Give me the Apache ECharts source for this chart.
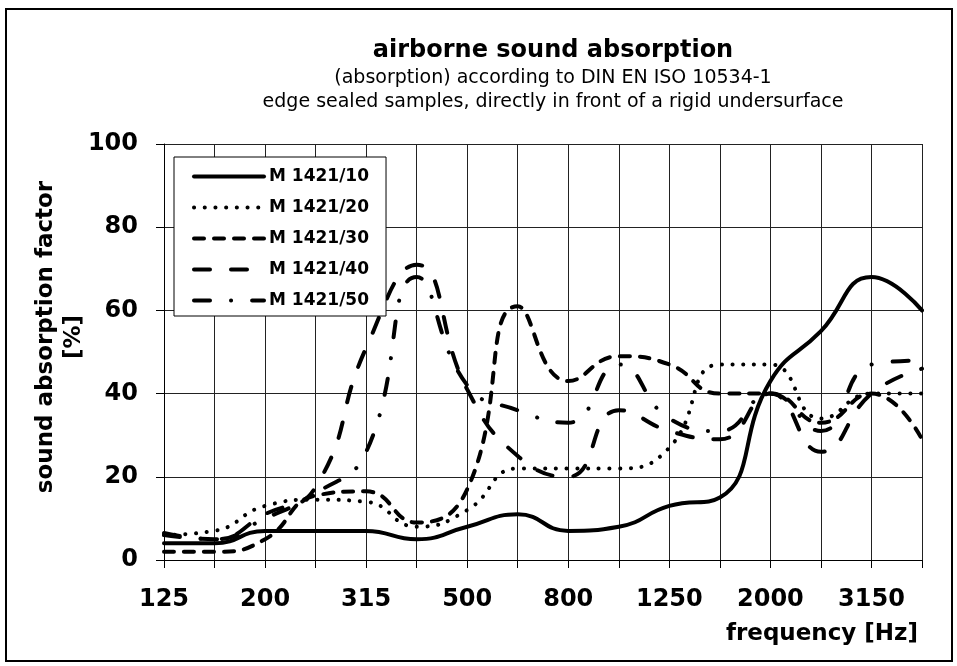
<!DOCTYPE html>
<html>
<head>
    <meta charset="utf-8">
    <title>airborne sound absorption</title>
    <script src="https://cdn.jsdelivr.net/npm/echarts@6/dist/echarts.min.js"></script>
    <style>
        html, body { margin: 0; padding: 0; background: #fff; }
    </style>
</head>
<body>
<div id="main" style="width: 957px;height:666px"></div>
<script type="text/javascript">
    // third-octave band centre frequencies [Hz]
    var freqs = ['125', '160', '200', '250', '315', '400', '500', '630', '800', '1000', '1250', '1600', '2000', '2500', '3150', '4000'];

    // sound absorption factor [%] per sample
    var m10 = [4, 4, 7, 7, 7, 5, 8, 11, 7, 8, 13, 15, 43, 55, 68, 60];
    var m20 = [6, 7, 13, 14.5, 14, 8, 12, 22, 22, 22, 27, 47, 47, 34, 40, 40];
    var m30 = [2, 2, 5, 15.5, 16.5, 9, 17, 61, 43, 49, 47, 40, 40, 33, 40, 29];
    var m40 = [6, 5, 11, 17.5, 51, 71, 41, 25, 20, 36, 31, 29, 40, 26, 40, 46];
    var m50 = [6.5, 5, 10, 16, 26, 68, 42, 36, 33, 47, 34, 31, 40, 31, 47, 48];

    var names = ['M 1421/10', 'M 1421/20', 'M 1421/30', 'M 1421/40', 'M 1421/50'];
    var values = [m10, m20, m30, m40, m50];
    var dashes = ['solid', [0.1, 10.6], [10, 10], [16, 21], [16, 21, 0.1, 21]];

    var font = 'DejaVu Sans, Verdana, sans-serif';

    var myChart = echarts.init(document.getElementById('main'));

    var series = names.map(function (n, i) {
        return {
            name: n,
            type: 'line',
            data: values[i],
            smooth: 0.5,
            symbol: 'none',
            lineStyle: {
                color: '#000',
                width: 4,
                type: dashes[i],
                cap: 'round'
            },
            itemStyle: { color: '#000' },
            z: 3
        };
    });

    var option = {
        animation: false,
        backgroundColor: '#fff',
        textStyle: { fontFamily: font },
        title: [
            {
                text: 'airborne sound absorption',
                left: 548, top: 34, textAlign: 'center',
                textStyle: { fontFamily: font, fontSize: 24, fontWeight: 'bold', color: '#000' }
            },
            {
                text: '(absorption) according to DIN EN ISO 10534-1',
                left: 548, top: 64, textAlign: 'center',
                textStyle: { fontFamily: font, fontSize: 19, fontWeight: 'normal', color: '#000' }
            },
            {
                text: 'edge sealed samples, directly in front of a rigid undersurface',
                left: 548, top: 88, textAlign: 'center',
                textStyle: { fontFamily: font, fontSize: 19, fontWeight: 'normal', color: '#000' }
            }
        ],
        legend: {
            data: names,
            orient: 'vertical',
            left: 174,
            top: 157,
            itemWidth: 70,
            itemHeight: 20,
            itemGap: 14,
            padding: [11, 17, 7, 18],
            backgroundColor: '#fff',
            borderColor: '#000',
            borderWidth: 1,
            itemStyle: { color: 'rgba(0,0,0,0)', borderWidth: 0, opacity: 0 },
            lineStyle: { width: 4, cap: 'round' },
            textStyle: { fontFamily: font, fontSize: 17, fontWeight: 'bold', color: '#000' },
            z: 10
        },
        grid: { left: 164, right: 35, top: 144, bottom: 106 },
        xAxis: {
            type: 'category',
            data: freqs,
            boundaryGap: false,
            name: 'frequency [Hz]',
            nameLocation: 'end',
            nameGap: -4,
            nameMoveOverlap: false,
            nameTextStyle: {
                fontFamily: font, fontSize: 23, fontWeight: 'bold', color: '#000',
                align: 'right', verticalAlign: 'top', padding: [63, 0, 0, 0]
            },
            axisLine: { lineStyle: { color: '#000', width: 1 } },
            axisTick: { show: true, interval: 0, length: 8, lineStyle: { color: '#000' } },
            axisLabel: {
                interval: 1, margin: 28,
                fontFamily: font, fontSize: 24, fontWeight: 'bold', color: '#000'
            },
            splitLine: { show: true, interval: 0, lineStyle: { color: '#222', width: 1 } }
        },
        yAxis: {
            type: 'value',
            min: 0, max: 100, interval: 20,
            name: 'sound absorption factor\n[%]',
            nameLocation: 'middle',
            nameGap: 76,
            nameMoveOverlap: false,
            nameTextStyle: {
                fontFamily: font, fontSize: 23, fontWeight: 'bold', color: '#000',
                lineHeight: 28, padding: [0, 0, 0, 30]
            },
            axisLine: { show: true, lineStyle: { color: '#000', width: 1 } },
            axisTick: { show: true, length: 8, lineStyle: { color: '#000' } },
            axisLabel: {
                margin: 26,
                fontFamily: font, fontSize: 24, fontWeight: 'bold', color: '#000'
            },
            splitLine: { show: true, lineStyle: { color: '#222', width: 1 } }
        },
        graphic: [
            {
                type: 'rect',
                shape: { x: 6, y: 9, width: 946, height: 652 },
                style: { fill: 'none', stroke: '#000', lineWidth: 2 },
                silent: true
            }
        ],
        series: series
    };

    myChart.setOption(option);
</script>
</body>
</html>
